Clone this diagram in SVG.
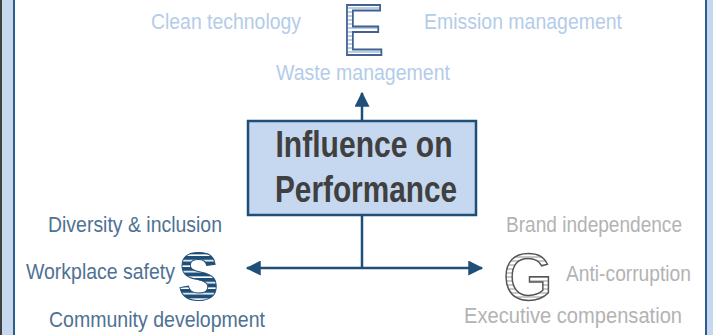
<svg xmlns="http://www.w3.org/2000/svg" width="713" height="335" viewBox="0 0 713 335">
<defs>
<style>
.lbl{font-family:"Liberation Sans",Arial,sans-serif;font-size:22px}
.e{fill:#b4cce9}
.s{fill:#4f7194}
.g{fill:#b3b3b3}
.conn{stroke:#1f4e79;stroke-width:2.5;fill:none}
</style>
<pattern id="pe" width="6" height="4" patternUnits="userSpaceOnUse"><rect width="6" height="4" fill="#fff"/><rect width="6" height="2" fill="#b7cdea"/></pattern>
<pattern id="ps" width="6" height="5.5" patternUnits="userSpaceOnUse"><rect width="6" height="5.5" fill="#fff"/><rect width="6" height="3.9" fill="#1f4e79"/></pattern>
<pattern id="pg" width="6" height="4" patternUnits="userSpaceOnUse"><rect width="6" height="4" fill="#fff"/><rect width="6" height="2" fill="#c9c9c9"/></pattern>
<marker id="ah" markerWidth="6" markerHeight="6" refX="5.5" refY="3" orient="auto" markerUnits="strokeWidth"><path d="M0,0 L6,3 L0,6 Z" fill="#1f4e79"/></marker>
</defs>
<g id="frame">
<rect x="1" y="-20" width="730" height="380" fill="#c5d8f0" stroke="#404040" stroke-width="2"/>
<rect x="14" y="-20" width="692" height="380" fill="#fff" stroke="#2e5e8e" stroke-width="2"/>
</g>
<g id="connectors">
<line class="conn" x1="362" y1="120" x2="362" y2="93" marker-end="url(#ah)"/>
<line class="conn" x1="362" y1="216" x2="362" y2="268"/>
<line class="conn" x1="362" y1="268" x2="247" y2="268" marker-end="url(#ah)"/>
<line class="conn" x1="362" y1="268" x2="482" y2="268" marker-end="url(#ah)"/>
</g>
<g id="center">
<rect x="248" y="121" width="228" height="94" fill="#c5d8f0" stroke="#1f4e79" stroke-width="2.5"/>
<text x="364" y="157" font-family="Liberation Sans,Arial,sans-serif" font-weight="bold" font-size="36" fill="#404040" text-anchor="middle" textLength="177" lengthAdjust="spacingAndGlyphs">Influence on</text>
<text x="366" y="202" font-family="Liberation Sans,Arial,sans-serif" font-weight="bold" font-size="36" fill="#404040" text-anchor="middle" textLength="182" lengthAdjust="spacingAndGlyphs">Performance</text>
</g>
<g id="environmental">
<text transform="translate(363,55) scale(0.87,1)" font-family="Liberation Sans,Arial,sans-serif" font-size="73" text-anchor="middle" fill="url(#pe)" stroke="#41628f" stroke-width="2">E</text>
<text class="lbl e" x="151" y="29" textLength="150" lengthAdjust="spacingAndGlyphs">Clean technology</text>
<text class="lbl e" x="424" y="29" textLength="198" lengthAdjust="spacingAndGlyphs">Emission management</text>
<text class="lbl e" x="276" y="80" textLength="174" lengthAdjust="spacingAndGlyphs">Waste management</text>
</g>
<g id="social">
<text transform="translate(198.5,300) scale(0.89,1)" font-family="Liberation Sans,Arial,sans-serif" font-weight="bold" font-size="68" text-anchor="middle" fill="url(#ps)" stroke="#1f4e79" stroke-width="1">S</text>
<text class="lbl s" x="48" y="232" textLength="174" lengthAdjust="spacingAndGlyphs">Diversity &amp; inclusion</text>
<text class="lbl s" x="26" y="279" textLength="149" lengthAdjust="spacingAndGlyphs">Workplace safety</text>
<text class="lbl s" x="49" y="327" textLength="216" lengthAdjust="spacingAndGlyphs">Community development</text>
</g>
<g id="governance">
<text transform="translate(528,300) scale(0.97,1)" font-family="Liberation Sans,Arial,sans-serif" font-size="67" text-anchor="middle" fill="url(#pg)" stroke="#555" stroke-width="1.5">G</text>
<text class="lbl g" x="506" y="232" textLength="176" lengthAdjust="spacingAndGlyphs">Brand independence</text>
<text class="lbl g" x="566" y="281" textLength="125" lengthAdjust="spacingAndGlyphs">Anti-corruption</text>
<text class="lbl g" x="464" y="323" textLength="218" lengthAdjust="spacingAndGlyphs">Executive compensation</text>
</g>
</svg>
